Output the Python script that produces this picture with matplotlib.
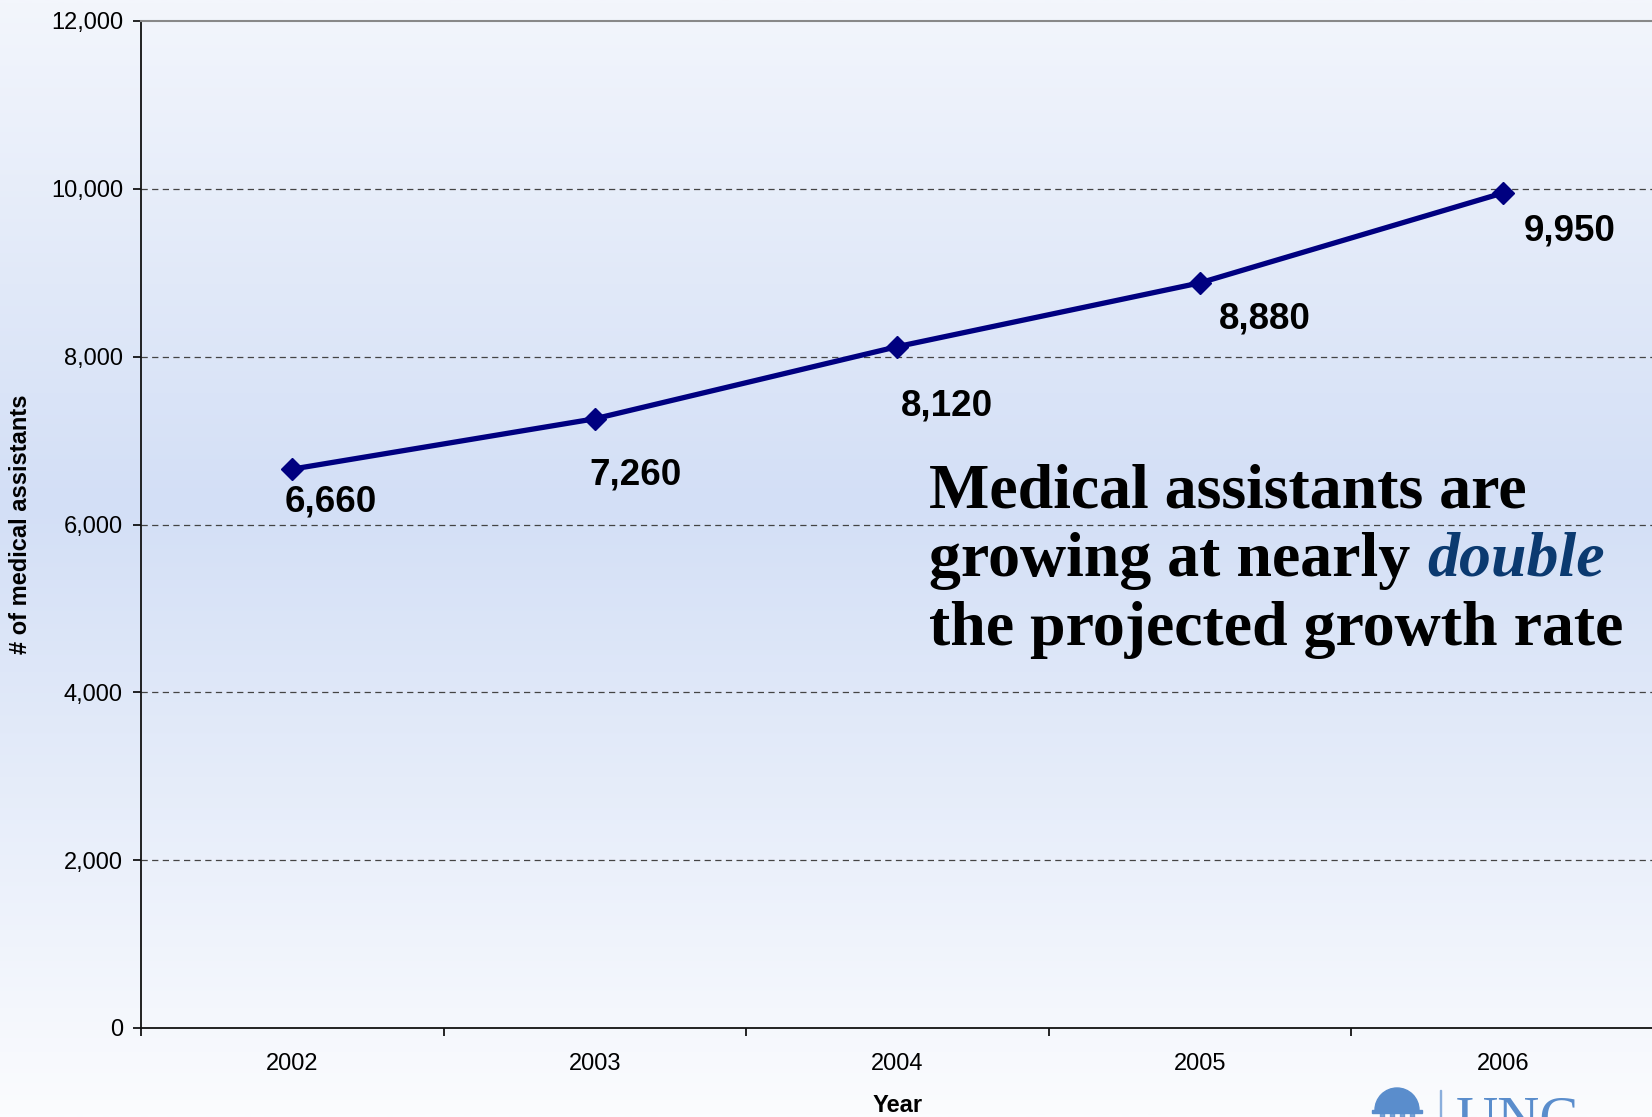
import numpy as np
import matplotlib
matplotlib.use("Agg")
import matplotlib.pyplot as plt
from matplotlib.colors import LinearSegmentedColormap
from matplotlib.patches import Wedge, Rectangle
from matplotlib.transforms import IdentityTransform

# data
years = ["2002", "2003", "2004", "2005", "2006"]
assistants = [6660, 7260, 8120, 8880, 9950]
yticks = [0, 2000, 4000, 6000, 8000, 10000, 12000]

# label offsets in pixels (dx, dy) from each point
label_offsets = [(38, -33), (41, -56), (49, -59), (65, -36), (67, -38)]

W, H = 1652, 1117
fig = plt.figure(figsize=(W / 100, H / 100), dpi=100)

# background gradient
bg = fig.add_axes([0, 0, 1, 1], zorder=-10)
cmap = LinearSegmentedColormap.from_list(
    "bg", [(0.0, "#f3f6fc"), (0.45, "#d3dff6"), (1.0, "#fbfcfe")])
grad = np.linspace(0, 1, 512).reshape(-1, 1)
bg.imshow(grad, aspect="auto", cmap=cmap, extent=[0, 1, 0, 1], origin="upper")
bg.axis("off")

ax = fig.add_axes([141 / W, 89 / H, (1654 - 141) / W, (1096 - 89) / H])
ax.patch.set_alpha(0)

x = np.arange(len(years))
ax.plot(x, assistants, color="#000080", lw=3.8, marker="D", ms=11,
        zorder=5, clip_on=False)

for i, v in enumerate(assistants):
    dx, dy = label_offsets[i]
    ax.annotate(f"{v:,}", (x[i], v), xytext=(dx, dy), textcoords="offset pixels",
                ha="center", va="center", fontsize=26.5, fontweight="bold",
                family="Liberation Sans", color="black")

ax.set_xlim(-0.5, len(years) - 0.5)
ax.set_ylim(0, 12000)
ax.set_yticks(yticks)
ax.set_yticklabels([f"{t:,}" for t in yticks], family="Liberation Sans", fontsize=17)
ax.set_xticks(x)
ax.set_xticklabels(years, family="Liberation Sans", fontsize=17)
ax.set_xticks(np.arange(-0.5, len(years), 1), minor=True)
ax.tick_params(axis="x", which="major", length=0, pad=18)
ax.tick_params(axis="x", which="minor", length=6, width=1.2, direction="out")
ax.tick_params(axis="y", length=6, width=1.2, pad=7)

for t in yticks[1:-1]:
    ax.axhline(t, color="#444444", lw=0.9, ls=(0, (5, 3.5)), zorder=1)

ax.spines["right"].set_visible(False)
ax.spines["top"].set_color("#888888")
ax.spines["top"].set_linewidth(1.5)
ax.spines["left"].set_color("#111111")
ax.spines["bottom"].set_color("#111111")
ax.spines["left"].set_linewidth(1.3)
ax.spines["bottom"].set_linewidth(1.3)

fig.text(21 / W, 1 - 524 / H, "# of medical assistants", rotation=90,
         ha="center", va="center", fontsize=17, fontweight="bold",
         family="Liberation Sans")
fig.text(898 / W, 1 - 1106 / H, "Year", ha="center", va="center",
         fontsize=17, fontweight="bold", family="Liberation Sans")

# callout text
tx = 929 / W
fs = 46
fig.text(tx, 1 - 508 / H, "Medical assistants are", fontsize=fs,
         fontweight="bold", family="Liberation Serif", va="baseline")
t2 = fig.text(tx, 1 - 576 / H, "growing at nearly", fontsize=fs,
              fontweight="bold", family="Liberation Serif", va="baseline")
fig.text(tx, 1 - 645 / H, "the projected growth rate", fontsize=fs,
         fontweight="bold", family="Liberation Serif", va="baseline")
fig.canvas.draw()
ext = t2.get_window_extent(renderer=fig.canvas.get_renderer())
fig.text((ext.x1 + 17) / W, 1 - 576 / H, "double", fontsize=fs,
         fontweight="bold", style="italic", family="Liberation Serif",
         va="baseline", color="#0b3a70")

# partial UNC logo at bottom right (cut off by the page edge, as in the slide)
logo = "#5a8dcc"
fig.add_artist(Wedge((1397, H - 1110), 22, 0, 180, color=logo,
                     transform=IdentityTransform()))
fig.add_artist(Rectangle((1372, H - 1113), 50, 3, color=logo,
                         transform=IdentityTransform()))
for cx in [1380, 1390, 1400, 1410]:
    fig.add_artist(Rectangle((cx, 0), 4, H - 1113, color=logo, alpha=0.8,
                             transform=IdentityTransform()))
fig.add_artist(Rectangle((1439.5, 0), 1.5, H - 1090, color="#8aaedc",
                         transform=IdentityTransform()))
fig.text(1456 / W, 1 - 1095 / H, "UNC", fontsize=42, family="Liberation Serif",
         color=logo, va="top", ha="left")

fig.savefig("out.png", dpi=100)
